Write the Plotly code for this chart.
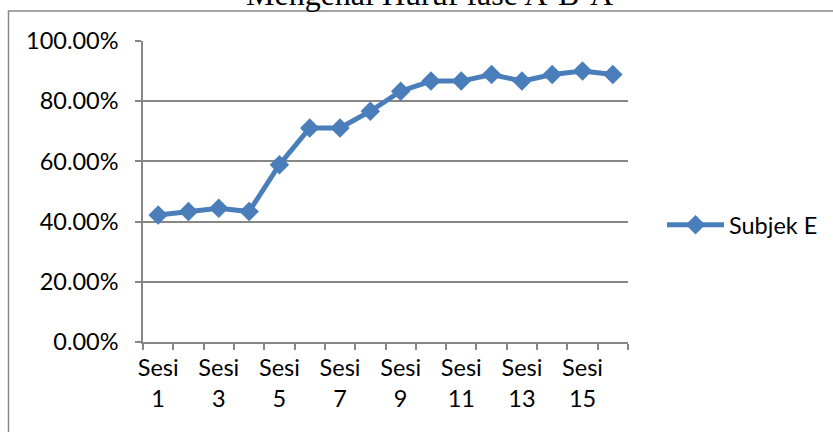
import plotly.graph_objects as go

# Session labels and recognition scores (fraction of letters correct)
sessions = ["Sesi 1", "Sesi 2", "Sesi 3", "Sesi 4", "Sesi 5", "Sesi 6", "Sesi 7", "Sesi 8",
            "Sesi 9", "Sesi 10", "Sesi 11", "Sesi 12", "Sesi 13", "Sesi 14", "Sesi 15", "Sesi 16"]
subjek_e = [0.4222, 0.4333, 0.4444, 0.4333, 0.5889, 0.7111, 0.7111, 0.7667,
            0.8333, 0.8667, 0.8667, 0.8889, 0.8667, 0.8889, 0.9000, 0.8889]
y_ticks = [0, 0.2, 0.4, 0.6, 0.8, 1.0]
title_text = "Mengenal Huruf fase A-B-A"
series_name = "Subjek E"

# Label every other session, split into two lines
tick_text = [s.replace(" ", "<br>") if i % 2 == 0 else "" for i, s in enumerate(sessions)]

W, H = 833, 432
ML, MR, MT, MB = 143, 205, 41, 90
PW, PH = W - ML - MR, H - MT - MB


def px_x(px):
    return (px - ML) / PW


def px_y(py):
    return (H - MB - py) / PH


BLUE = "#4A7EBB"
GRID = "#878787"
FONT = "Lato"
FS = 23.5

fig = go.Figure()
fig.add_trace(go.Scatter(
    x=sessions, y=subjek_e, mode="lines+markers", name=series_name,
    line=dict(color=BLUE, width=5),
    marker=dict(symbol="diamond", size=15, color=BLUE),
))

fig.update_layout(
    width=W, height=H,
    margin=dict(l=ML, r=MR, t=MT, b=MB, pad=0, autoexpand=False),
    paper_bgcolor="white", plot_bgcolor="white",
    font=dict(family=FONT, size=FS, color="#000000"),
    showlegend=True,
    legend=dict(x=px_x(662), y=px_y(225), xanchor="left", yanchor="middle",
                font=dict(family=FONT, size=FS), bgcolor="rgba(0,0,0,0)",
                itemwidth=57),
    xaxis=dict(
        type="category", tickvals=sessions, ticktext=tick_text,
        tickson="boundaries", ticks="outside", ticklen=6, tickcolor=GRID, tickwidth=1.5,
        showline=True, linecolor=GRID, linewidth=1.5, showgrid=False,
        tickangle=0, tickfont=dict(family=FONT, size=FS), ticklabelstandoff=4,
        range=[-0.5, len(sessions) - 0.5],
    ),
    yaxis=dict(
        range=[0, 1], tickvals=y_ticks, tickformat=".2%",
        ticks="outside", ticklen=6, tickcolor=GRID, tickwidth=1.5,
        showline=True, linecolor=GRID, linewidth=1.5,
        showgrid=True, gridcolor=GRID, gridwidth=1.5, zeroline=False,
        tickfont=dict(family=FONT, size=FS), ticklabelstandoff=12,
    ),
    shapes=[dict(type="rect", xref="paper", yref="paper",
                 x0=px_x(8.5), x1=px_x(900), y0=px_y(500), y1=px_y(11),
                 line=dict(color=GRID, width=1.5), fillcolor="rgba(0,0,0,0)", layer="below")],
    annotations=[dict(text=title_text, xref="paper", yref="paper",
                      x=px_x(429), y=px_y(-6), xanchor="center", yanchor="middle",
                      showarrow=False,
                      font=dict(family="Liberation Serif", size=32, color="#000000"))],
)

fig.write_html("out.html")
